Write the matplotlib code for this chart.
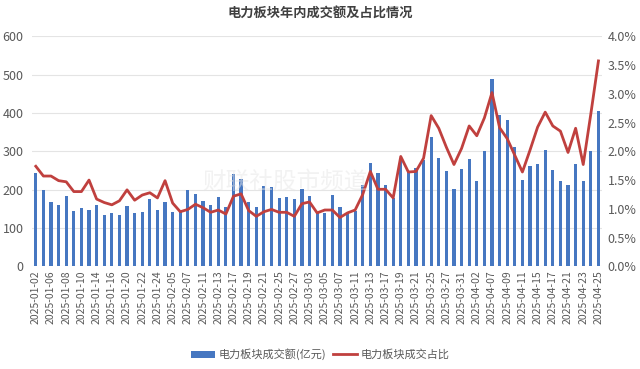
import matplotlib
matplotlib.use('Agg')
import matplotlib.pyplot as plt
from matplotlib.ticker import FuncFormatter

plt.rcParams['font.family'] = ['Noto Sans CJK SC', 'DejaVu Sans']

# 交易日
dates = [
    '2025-01-02', '2025-01-03', '2025-01-06', '2025-01-07', '2025-01-08', '2025-01-09', '2025-01-10',
    '2025-01-13', '2025-01-14', '2025-01-15', '2025-01-16', '2025-01-17', '2025-01-20', '2025-01-21',
    '2025-01-22', '2025-01-23', '2025-01-24', '2025-01-27', '2025-02-05', '2025-02-06', '2025-02-07',
    '2025-02-10', '2025-02-11', '2025-02-12', '2025-02-13', '2025-02-14', '2025-02-17', '2025-02-18',
    '2025-02-19', '2025-02-20', '2025-02-21', '2025-02-24', '2025-02-25', '2025-02-26', '2025-02-27',
    '2025-02-28', '2025-03-03', '2025-03-04', '2025-03-05', '2025-03-06', '2025-03-07', '2025-03-10',
    '2025-03-11', '2025-03-12', '2025-03-13', '2025-03-14', '2025-03-17', '2025-03-18', '2025-03-19',
    '2025-03-20', '2025-03-21', '2025-03-24', '2025-03-25', '2025-03-26', '2025-03-27', '2025-03-28',
    '2025-03-31', '2025-04-01', '2025-04-02', '2025-04-03', '2025-04-07', '2025-04-08', '2025-04-09',
    '2025-04-10', '2025-04-11', '2025-04-14', '2025-04-15', '2025-04-16', '2025-04-17', '2025-04-18',
    '2025-04-21', '2025-04-22', '2025-04-23', '2025-04-24', '2025-04-25',
]

# 成交额(亿元)
turnover = [
    244, 200, 168, 161, 183, 144, 151, 146, 161, 135, 138, 133, 157, 139, 142, 175, 146, 168,
    142, 145, 199, 190, 171, 159, 180, 156, 240, 229, 168, 156, 209, 207, 179, 180, 175, 202,
    184, 140, 140, 186, 155, 139, 145, 213, 270, 244, 213, 179, 282, 246, 257, 278, 336, 283,
    248, 201, 254, 280, 223, 300, 488, 395, 382, 310, 225, 262, 268, 304, 250, 222, 213, 266,
    222, 300, 404,
]

# 成交占比(%)
share = [
    1.74, 1.57, 1.57, 1.49, 1.47, 1.30, 1.30, 1.50, 1.17, 1.11, 1.07, 1.14, 1.33, 1.15, 1.24,
    1.28, 1.19, 1.49, 1.10, 0.95, 0.99, 1.08, 1.02, 0.94, 0.98, 0.91, 1.22, 1.26, 0.97, 0.87,
    0.95, 0.99, 0.94, 0.94, 0.87, 1.09, 1.12, 0.93, 0.98, 0.98, 0.85, 0.93, 0.98, 1.25, 1.65,
    1.34, 1.34, 1.19, 1.91, 1.64, 1.65, 1.88, 2.62, 2.40, 2.07, 1.77, 2.05, 2.44, 2.27, 2.58,
    3.02, 2.41, 2.22, 1.93, 1.64, 2.02, 2.42, 2.68, 2.44, 2.35, 1.98, 2.40, 1.77, 2.65, 3.57,
]

bar_color = '#4677c1'
line_color = '#c0403e'
text_color = '#595959'

fig = plt.figure(figsize=(6.4, 3.69), dpi=100)
ax = fig.add_axes([0.05, 0.278, 0.891, 0.624])
ax2 = ax.twinx()

x = list(range(len(dates)))
b = ax.bar(x, turnover, width=0.42, color=bar_color, zorder=2, label='电力板块成交额(亿元)')
l, = ax2.plot(x, share, color=line_color, linewidth=2, zorder=3, label='电力板块成交占比')

ax.set_ylim(0, 600)
ax.set_yticks(range(0, 601, 100))
ax2.set_ylim(0, 4.0)
ax2.set_yticks([i * 0.5 for i in range(9)])
ax2.yaxis.set_major_formatter(FuncFormatter(lambda v, p: f'{v:.1f}%'))
ax.set_xlim(-0.5, len(dates) - 0.5)
ax.set_xticks(x[::2])
ax.set_xticklabels(dates[::2], rotation=90, fontsize=7.5, color=text_color)

ax.grid(axis='y', color='#e4e4e4', linewidth=0.8, zorder=0)
ax.set_axisbelow(True)
for a in (ax, ax2):
    for s in a.spines.values():
        s.set_visible(False)
    a.tick_params(length=0, labelcolor=text_color)
ax.tick_params(axis='y', labelsize=9, pad=6)
ax2.tick_params(axis='y', labelsize=9, pad=4)
ax.tick_params(axis='x', pad=3)

# 水印
fig.text(0.445, 0.505, '财联社股市频道', fontsize=17, color='#e6e6e6', alpha=0.5,
         ha='center', va='center', zorder=0)

fig.text(0.5, 0.962, '电力板块年内成交额及占比情况', fontsize=9.5, fontweight='bold',
         color='#404040', ha='center', va='center')

fig.legend([b, l], ['电力板块成交额(亿元)', '电力板块成交占比'], loc='center',
           bbox_to_anchor=(0.5, 0.04), ncol=2, frameon=False, fontsize=8,
           handlelength=2.2, handleheight=0.6, columnspacing=0.6, handletextpad=0.3,
           labelcolor=text_color)

fig.savefig('out.png', dpi=100)
